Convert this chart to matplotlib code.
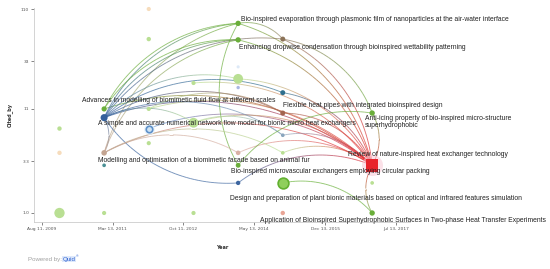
import matplotlib
matplotlib.use('Agg')
import matplotlib.pyplot as plt
import matplotlib.dates as mdates
from matplotlib.collections import LineCollection
from matplotlib.colors import to_rgba
import numpy as np
from datetime import datetime

# ---------------- data ----------------
pub_dates = ['2010-01-01', '2010-01-01', '2010-01-01',
             '2011-01-01', '2011-01-01', '2011-01-01', '2011-01-01', '2011-01-01',
             '2012-01-01', '2012-01-01', '2012-01-01', '2012-01-01', '2012-01-01',
             '2013-01-01', '2013-01-01', '2013-01-01',
             '2014-01-01', '2014-01-01', '2014-01-01', '2014-01-01', '2014-01-01',
             '2014-01-01', '2014-01-01', '2014-01-01',
             '2015-01-01', '2015-01-01', '2015-01-01', '2015-01-01', '2015-01-01',
             '2015-01-01', '2015-01-01',
             '2017-01-01', '2017-01-01', '2017-01-01', '2017-01-01']
cited_by = [7, 4, 1,
            11, 9, 4, 3, 1,
            110, 55, 11, 7, 5,
            20, 8, 1,
            79, 54, 22, 18, 29, 4, 3, 2,
            16, 10, 6, 4, 2, 55, 1,
            10, 3, 2, 1]
cluster = ['lightgreen', 'peach', 'lightgreen',
           'green', 'navy', 'tan', 'teal', 'lightgreen',
           'peach', 'lightgreen', 'lightgreen', 'ring', 'lightgreen',
           'lightgreen', 'lightgreen', 'lightgreen',
           'green', 'green', 'lightgreen', 'lavender', 'paleblue', 'pink', 'green', 'blue',
           'darkteal', 'brown', 'steel', 'lightgreen', 'greenring', 'brown2', 'salmon',
           'green', 'red', 'lightgreen', 'green']
titles = {
    16: 'Bio-inspired evaporation through plasmonic film of nanoparticles at the air-water interface',
    17: 'Enhancing dropwise condensation through bioinspired wettability patterning',
    3: 'Advances in modelling of biomimetic fluid flow at different scales',
    4: 'A simple and accurate numerical network flow model for bionic micro heat exchangers',
    5: 'Modelling and optimisation of a biomimetic facade based on animal fur',
    25: 'Flexible heat pipes with integrated bioinspired design',
    31: 'Anti-icing property of bio-inspired micro-structure\nsuperhydrophobic',
    32: 'Review of nature-inspired heat exchanger technology',
    22: 'Bio-inspired microvascular exchangers employing circular packing',
    28: 'Design and preparation of plant bionic materials based on optical and infrared features simulation',
    34: 'Application of Bioinspired Superhydrophobic Surfaces in Two-phase Heat Transfer Experiments',
}
edges = [(4, 32), (3, 32), (5, 32), (11, 32), (14, 32), (10, 32), (25, 32), (24, 32),
         (26, 32), (21, 32), (13, 32), (18, 32), (17, 32), (16, 32), (29, 32), (27, 32),
         (4, 16), (3, 16), (5, 16), (4, 17), (3, 17), (5, 17), (4, 29), (4, 24),
         (4, 25), (4, 26), (4, 18), (4, 14), (4, 5), (23, 4), (22, 16), (28, 34),
         (34, 32), (31, 32), (5, 21), (5, 27), (10, 25), (14, 26), (22, 31), (23, 32),
         (16, 29), (29, 31)]
x_tick_dates = ['2009-08-11', '2011-03-13', '2012-10-11', '2014-05-13', '2015-12-13', '2017-07-13']
x_tick_labels = ['Aug 11, 2009', 'Mar 13, 2011', 'Oct 11, 2012', 'May 13, 2014', 'Dec 13, 2015', 'Jul 13, 2017']
y_ticks = [1.0, 3.3, 11, 33, 110]
y_tick_labels = ['1.0', '3.3', '11', '33', '110']

# ---------------- styles ----------------
face = {'lightgreen': '#b9df93', 'peach': '#f6dcbc', 'green': '#6aae3a', 'navy': '#34609c',
        'tan': '#c4a592', 'teal': '#4a8f94', 'ring': '#cfe3f3', 'lavender': '#aab7e3',
        'paleblue': '#dde9f7', 'pink': '#d9b0a4', 'blue': '#3d66a0', 'darkteal': '#2f6f8e',
        'brown': '#a3644f', 'steel': '#8aa5bd', 'greenring': '#8fcf5c', 'brown2': '#8c7358',
        'salmon': '#e9a596', 'red': '#e8232b'}
edgec = {'ring': '#5d90c9', 'greenring': '#62b030'}
size_cls = {0: 10, 1: 10, 2: 55, 3: 14, 4: 26, 5: 16, 6: 7, 7: 9, 8: 9, 9: 10, 10: 9,
            11: 22, 12: 9, 13: 9, 14: 50, 15: 9, 16: 15, 17: 15, 18: 50, 19: 6, 20: 5,
            21: 11, 22: 12, 23: 10, 24: 13, 25: 13, 26: 7, 27: 7, 28: 60, 29: 13, 30: 10,
            31: 15, 32: 80, 33: 7, 34: 15}
label_off = {16: (3, -4), 17: (1, 8), 3: (-22, -8), 4: (-6, 6), 5: (-6, 8), 25: (0, -8),
             31: (-7, 9), 32: (-24, -11), 22: (-7, 6), 28: (-53, 16), 34: (-112, 8)}

W, H = 550, 269
fig = plt.figure(figsize=(W / 100, H / 100), dpi=100)
ax = fig.add_axes([34 / W, (H - 222) / H, (410 - 34) / W, (222 - 8) / H])
ax.set_yscale('log')

xd = mdates.date2num([datetime.strptime(d, '%Y-%m-%d') for d in pub_dates])
yv = np.array(cited_by, dtype=float)
t0 = mdates.date2num(datetime(2009, 8, 11))
ppd = 0.12228
ax.set_xlim(t0 - 8 / ppd, t0 + (410 - 42) / ppd)
k = 2.0414 / 204
ax.set_ylim(10 ** (-9 * k), 10 ** (205 * k))

ax.set_xticks(mdates.date2num([datetime.strptime(d, '%Y-%m-%d') for d in x_tick_dates]))
ax.set_xticklabels(x_tick_labels)
ax.set_yticks(y_ticks)
ax.set_yticklabels(y_tick_labels)
ax.minorticks_off()
ax.tick_params(axis='both', labelsize=3.2, colors='#555555', length=2, width=0.5, pad=1.5)
for s in ['top', 'right']:
    ax.spines[s].set_visible(False)
for s in ['left', 'bottom']:
    ax.spines[s].set_color('#cccccc')
    ax.spines[s].set_linewidth(0.6)
ax.set_xlabel('Year', fontsize=3.6, fontweight='bold', color='#333333', labelpad=10)
ax.set_ylabel('Cited_by', fontsize=3.6, fontweight='bold', color='#333333', labelpad=6)

# ---------------- edges (arcs in display space) ----------------
fig.canvas.draw()
disp = ax.transData.transform(np.column_stack([xd, yv]))
inv = ax.transData.inverted()
segs, cols = [], []
for s, t in edges:
    p0, p1 = disp[s], disp[t]
    d = p1 - p0
    L = np.hypot(*d)
    n = np.array([-d[1], d[0]]) / L
    m = (p0 + p1) / 2
    c = m - n * L * np.sqrt(3) / 2
    a0 = np.arctan2(*(p0 - c)[::-1])
    a1 = np.arctan2(*(p1 - c)[::-1])
    if a1 - a0 > np.pi:
        a1 -= 2 * np.pi
    if a0 - a1 > np.pi:
        a1 += 2 * np.pi
    th = np.linspace(a0, a1, 40)
    pts = c + L * np.column_stack([np.cos(th), np.sin(th)])
    pts = inv.transform(pts)
    c0 = np.array(to_rgba(edgec.get(cluster[s], face[cluster[s]])))
    c1 = np.array(to_rgba(edgec.get(cluster[t], face[cluster[t]])))
    for i in range(len(pts) - 1):
        f = i / (len(pts) - 2)
        col = c0 * (1 - f) + c1 * f
        col[3] = 0.7
        segs.append(pts[i:i + 2])
        cols.append(col)
lc = LineCollection(segs, colors=cols, linewidths=0.65, zorder=2)
ax.add_collection(lc)

# halos
ax.scatter([xd[32]], [yv[32]], s=230, color='#f9c9d6', alpha=0.55, zorder=3, linewidths=0)
ax.scatter([xd[11]], [yv[11]], s=60, color='#e3f0fa', alpha=0.8, zorder=3, linewidths=0)

# ---------------- nodes ----------------
for i in range(len(xd)):
    cl = cluster[i]
    ec = edgec.get(cl, 'none')
    lw = 1.2 if cl in edgec else 0
    mk = 's' if cl == 'red' else 'o'
    ax.scatter([xd[i]], [yv[i]], s=size_cls[i], color=face[cl], edgecolors=ec,
               linewidths=lw, marker=mk, zorder=4, clip_on=False)

# ---------------- labels ----------------
for i, txt in titles.items():
    dx, dy = label_off[i]
    ax.annotate(txt, (xd[i], yv[i]), xytext=(dx * 0.72, -dy * 0.72), textcoords='offset points',
                fontsize=4.9, family='Liberation Sans', color='#222222', ha='left', va='center',
                zorder=5, annotation_clip=False, linespacing=1.0)

fig.text(28 / W, 1 - 259 / H, 'Powered by:', fontsize=4.4, color='#a0a0a0', family='Liberation Sans',
         va='center')
fig.text(63 / W, 1 - 259 / H, 'Quid', fontsize=4.4, color='#2b5fcf', family='Liberation Sans',
         va='center', bbox=dict(boxstyle='square,pad=0.1', fc='#dde8fb', ec='none'))
fig.text(75.5 / W, 1 - 256.5 / H, '®', fontsize=2.6, color='#2b5fcf', family='Liberation Sans',
         va='center')

fig.savefig('out.png', dpi=100)
